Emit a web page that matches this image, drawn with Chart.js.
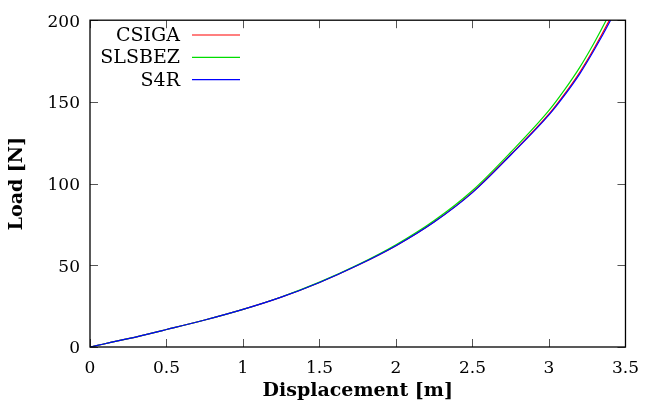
<!DOCTYPE html>
<html>
<head>
<meta charset="utf-8">
<script src="https://cdn.jsdelivr.net/npm/chart.js@4"></script>
<style>
  html, body { margin: 0; padding: 0; background: #fff; }
</style>
</head>
<body>
<canvas id="loadGraph" width="650" height="405"></canvas>
<script>
/*
 * Values
 */
const displacement = [0, 0.25, 0.5, 0.75, 1, 1.25, 1.5, 1.75, 2, 2.25, 2.5, 2.75, 3, 3.1, 3.2, 3.3, 3.4, 3.5];
const loadCSIGA  = [0, 5.1, 10.7, 16.5, 23.0, 30.5, 39.5, 50.0, 62.0, 76.6, 94.8, 117.8, 142.6, 154.6, 168.0, 183.6, 201.0, 220.0];
const loadSLSBEZ = [0, 5.1, 10.7, 16.5, 23.0, 30.6, 39.7, 50.3, 62.6, 77.4, 95.8, 119.2, 144.8, 157.2, 171.0, 187.0, 204.8, 224.5];
const loadS4R    = [0, 5.1, 10.7, 16.5, 23.0, 30.5, 39.5, 50.0, 62.0, 76.5, 94.5, 117.5, 142.0, 153.8, 167.0, 182.5, 199.5, 218.5];

const seriesLabels = ["CSIGA", "SLSBEZ", "S4R"];
const seriesColors = ["#ff0000", "#00dd00", "#0000ff"];

const xTicksStep = 0.5;
const yTicksStep = 50;

const serif = "'DejaVu Serif', 'Liberation Serif', serif";

function toPoints(xs, ys) {
    let pts = [];
    for (let i = 0; i < xs.length; i++) {
        pts.push({x: xs[i], y: ys[i]});
    }
    return pts;
}

// Frame round the plot plus inward ticks on all four sides (gnuplot look)
const frameTicksPlugin = {
    id: 'frameTicks',
    afterDatasetsDraw: (chart) => {
        const {ctx, chartArea: a, scales} = chart;
        const len = 8;
        ctx.save();
        ctx.strokeStyle = '#555';
        ctx.lineWidth = 1;
        ctx.beginPath();
        scales.x.ticks.forEach(t => {
            const px = Math.round(scales.x.getPixelForValue(t.value)) + 0.5;
            ctx.moveTo(px, a.bottom); ctx.lineTo(px, a.bottom - len);
            ctx.moveTo(px, a.top); ctx.lineTo(px, a.top + len);
        });
        scales.y.ticks.forEach(t => {
            const py = Math.round(scales.y.getPixelForValue(t.value)) + 0.5;
            ctx.moveTo(a.left, py); ctx.lineTo(a.left + len, py);
            ctx.moveTo(a.right, py); ctx.lineTo(a.right - len, py);
        });
        ctx.stroke();
        ctx.strokeStyle = '#000';
        ctx.lineWidth = 1.3;
        ctx.strokeRect(a.left, a.top, a.right - a.left, a.bottom - a.top);
        ctx.restore();
    }
};

// Legend inside the plot: label right aligned, line sample to its right
const keyPlugin = {
    id: 'gnuplotKey',
    afterDatasetsDraw: (chart) => {
        const {ctx} = chart;
        const textRight = 180;
        ctx.save();
        ctx.font = "19px " + serif;
        ctx.textAlign = 'right';
        ctx.textBaseline = 'middle';
        chart.data.datasets.forEach((ds, i) => {
            const y = 35 + i * 22.3;
            ctx.fillStyle = '#000';
            ctx.fillText(ds.label, textRight, y + 1);
            ctx.strokeStyle = ds.borderColor;
            ctx.lineWidth = 1.2;
            ctx.beginPath();
            ctx.moveTo(192, y);
            ctx.lineTo(240, y);
            ctx.stroke();
        });
        ctx.restore();
    }
};

const graphData = {
    datasets: [
        { label: seriesLabels[0], data: toPoints(displacement, loadCSIGA), borderColor: seriesColors[0], order: 2 },
        { label: seriesLabels[1], data: toPoints(displacement, loadSLSBEZ), borderColor: seriesColors[1], order: 1 },
        { label: seriesLabels[2], data: toPoints(displacement, loadS4R), borderColor: seriesColors[2], order: 0 }
    ]
};

graphData.datasets.forEach(ds => {
    ds.borderWidth = 1.2;
    ds.pointRadius = 0;
    ds.fill = false;
    ds.cubicInterpolationMode = 'monotone';
});

new Chart(document.getElementById('loadGraph'), {
    type: 'line',
    data: graphData,
    options: {
        responsive: false,
        animation: false,
        devicePixelRatio: 1,
        layout: { padding: { left: 0, right: 17, top: 17, bottom: 0 } },
        plugins: {
            legend: { display: false },
            tooltip: { enabled: false }
        },
        scales: {
            x: {
                type: 'linear',
                min: 0,
                max: 3.5,
                afterFit: (s) => { s.height = 58; },
                grid: { display: false, drawTicks: false },
                border: { display: false },
                ticks: {
                    stepSize: xTicksStep,
                    color: '#000',
                    padding: 11,
                    maxRotation: 0,
                    font: { family: serif, size: 17 },
                    callback: (v) => String(v)
                },
                title: {
                    display: true,
                    text: "Displacement [m]",
                    color: '#000',
                    font: { family: serif, size: 19, weight: 'bold', lineHeight: 1.2 },
                    padding: { top: 0, bottom: 3 }
                }
            },
            y: {
                min: 0,
                max: 200,
                afterFit: (s) => { s.width = 90; },
                grid: { display: false, drawTicks: false },
                border: { display: false },
                ticks: {
                    stepSize: yTicksStep,
                    color: '#000',
                    padding: 10,
                    labelOffset: 2,
                    font: { family: serif, size: 17 }
                },
                title: {
                    display: true,
                    text: "Load [N]",
                    color: '#000',
                    font: { family: serif, size: 19, weight: 'bold', lineHeight: 1.2 },
                    padding: { top: 6, bottom: 0 }
                }
            }
        }
    },
    plugins: [frameTicksPlugin, keyPlugin]
});
</script>
</body>
</html>
